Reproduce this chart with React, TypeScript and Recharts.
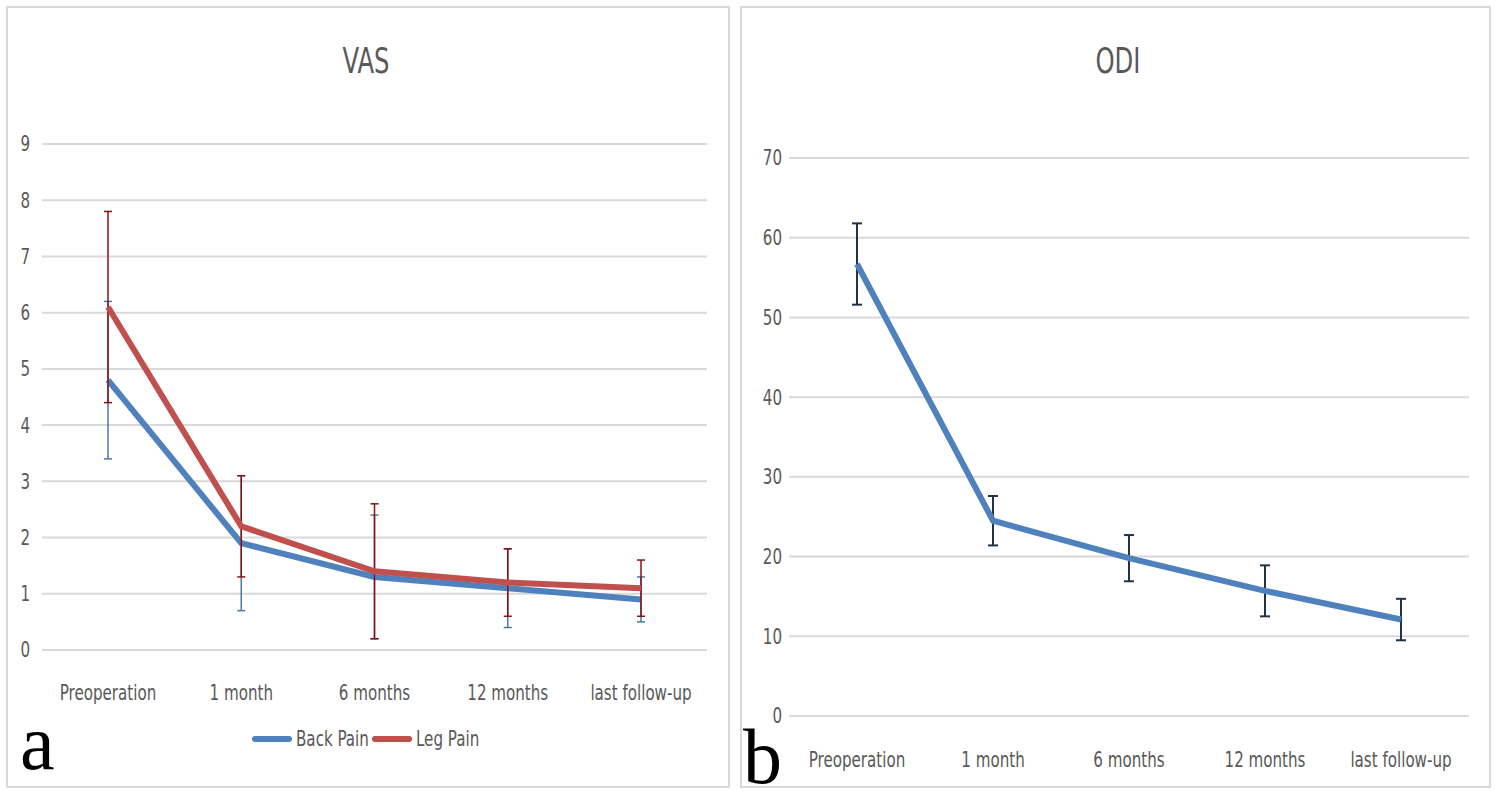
import { LineChart, Line, XAxis, YAxis, CartesianGrid, ErrorBar, Legend } from "recharts"

const categories = ["Preoperation", "1 month", "6 months", "12 months", "last follow-up"]

const backPain = [4.8, 1.9, 1.3, 1.1, 0.9]
const backPainSd = [1.4, 1.2, 1.1, 0.7, 0.4]
const legPain = [6.1, 2.2, 1.4, 1.2, 1.1]
const legPainSd = [1.7, 0.9, 1.2, 0.6, 0.5]

const odi = [56.7, 24.5, 19.8, 15.7, 12.1]
const odiSd = [5.1, 3.1, 2.9, 3.2, 2.6]

const vasTicks = [0, 1, 2, 3, 4, 5, 6, 7, 8, 9]
const odiTicks = [0, 10, 20, 30, 40, 50, 60, 70]

const vasData = categories.map((name, i) => ({
  name,
  back: backPain[i],
  backErr: backPainSd[i],
  leg: legPain[i],
  legErr: legPainSd[i],
}))

const odiData = categories.map((name, i) => ({ name, odi: odi[i], odiErr: odiSd[i] }))

const FONT = '"Liberation Sans Narrow", "DejaVu Sans Condensed", "Open Sans", sans-serif'
const TEXT = "#595959"
const GRID = "#d9d9d9"
const BLUE = "#4f81bd"
const RED = "#c0504d"
const SQUEEZE = 0.8

// excel's calibri is much narrower than what we have, so squeeze the labels
function NarrowTick(props: any) {
  const { x, y, payload, textAnchor, verticalAnchor } = props
  const dy = verticalAnchor === "start" ? "0.71em" : "0.355em"
  return (
    <text
      transform={`translate(${x},${y}) scale(${SQUEEZE},1)`}
      x={0}
      y={0}
      dy={dy}
      textAnchor={textAnchor}
      fill={TEXT}
      fontSize={21}
      fontFamily={FONT}
    >
      {payload.value}
    </text>
  )
}

const panelStyle = (left: number, width: number): React.CSSProperties => ({
  position: "absolute",
  left,
  top: 6,
  width,
  height: 782,
  border: `2px solid ${GRID}`,
  boxSizing: "border-box",
})

const titleStyle = (left: number): React.CSSProperties => ({
  position: "absolute",
  left,
  top: 40,
  width: 200,
  textAlign: "center",
  fontFamily: FONT,
  fontSize: 36,
  color: TEXT,
  transform: "scaleX(0.75)",
})

const letterStyle = (left: number, top: number): React.CSSProperties => ({
  position: "absolute",
  left,
  top,
  fontFamily: '"Liberation Serif", serif',
  fontSize: 78,
  lineHeight: "60px",
  color: "#000",
})

function VasLegend() {
  const item = (color: string, label: string, w: number) => (
    <span style={{ display: "inline-flex", alignItems: "center" }}>
      <span style={{ display: "inline-block", width: 40, height: 6, background: color, borderRadius: 3, marginRight: 4 }} />
      <span style={{ display: "inline-block", width: w, overflow: "visible", whiteSpace: "nowrap" }}>
        <span
          style={{
            display: "inline-block",
            fontFamily: FONT,
            fontSize: 21,
            color: TEXT,
            transform: `scaleX(${SQUEEZE})`,
            transformOrigin: "left center",
          }}
        >
          {label}
        </span>
      </span>
    </span>
  )
  return (
    <div style={{ display: "flex", justifyContent: "center" }}>
      {item(BLUE, "Back Pain", 76)}
      {item(RED, "Leg Pain", 62)}
    </div>
  )
}

export default function App() {
  return (
    <div style={{ position: "absolute", left: 0, top: 0, width: 1499, height: 791, background: "#fff" }}>
      <div style={panelStyle(6, 724)} />
      <div style={panelStyle(740, 751)} />

      <div style={titleStyle(266)}>VAS</div>
      <div style={titleStyle(1018)}>ODI</div>

      <div style={{ position: "absolute", left: 0, top: 0 }}>
        <LineChart width={729} height={780} data={vasData} margin={{ top: 144, right: 22, bottom: 100, left: 0 }}>
          <CartesianGrid vertical={false} stroke={GRID} strokeWidth={2} />
          <XAxis
            dataKey="name"
            axisLine={false}
            tickLine={false}
            tickSize={0}
            tickMargin={35}
            tick={<NarrowTick />}
            interval={0}
            padding={{ left: 66, right: 66 }}
          />
          <YAxis
            width={42}
            domain={[0, 9]}
            ticks={vasTicks}
            axisLine={false}
            tickLine={false}
            tickSize={0}
            tickMargin={12}
            tick={<NarrowTick />}
          />
          <Legend
            verticalAlign="middle"
            align="center"
            layout="horizontal"
            content={() => <VasLegend />}
            wrapperStyle={{ top: 727, left: 0, width: 729 }}
          />
          <Line type="linear" dataKey="back" stroke={BLUE} strokeWidth={6} dot={false} isAnimationActive={false}>
            <ErrorBar dataKey="backErr" direction="y" width={4} stroke="#4a7aa8" strokeWidth={1.5} isAnimationActive={false} />
          </Line>
          <Line type="linear" dataKey="leg" stroke={RED} strokeWidth={6} dot={false} isAnimationActive={false}>
            <ErrorBar dataKey="legErr" direction="y" width={4} stroke="#8b1010" strokeWidth={1.5} isAnimationActive={false} />
          </Line>
        </LineChart>
      </div>

      <div style={{ position: "absolute", left: 740, top: 0 }}>
        <LineChart width={750} height={790} data={odiData} margin={{ top: 158, right: 21, bottom: 20, left: 0 }}>
          <CartesianGrid vertical={false} stroke={GRID} strokeWidth={2} />
          <XAxis
            dataKey="name"
            height={54}
            axisLine={false}
            tickLine={false}
            tickSize={0}
            tickMargin={36}
            tick={<NarrowTick />}
            interval={0}
            padding={{ left: 68, right: 68 }}
          />
          <YAxis
            width={49}
            domain={[0, 70]}
            ticks={odiTicks}
            axisLine={false}
            tickLine={false}
            tickSize={0}
            tickMargin={7}
            tick={<NarrowTick />}
          />
          <Line type="linear" dataKey="odi" stroke={BLUE} strokeWidth={6} dot={false} isAnimationActive={false}>
            <ErrorBar dataKey="odiErr" direction="y" width={5} stroke="#1f3349" strokeWidth={2} isAnimationActive={false} />
          </Line>
        </LineChart>
      </div>

      <div style={letterStyle(20, 713)}>a</div>
      <div style={letterStyle(743, 727)}>b</div>
    </div>
  )
}
